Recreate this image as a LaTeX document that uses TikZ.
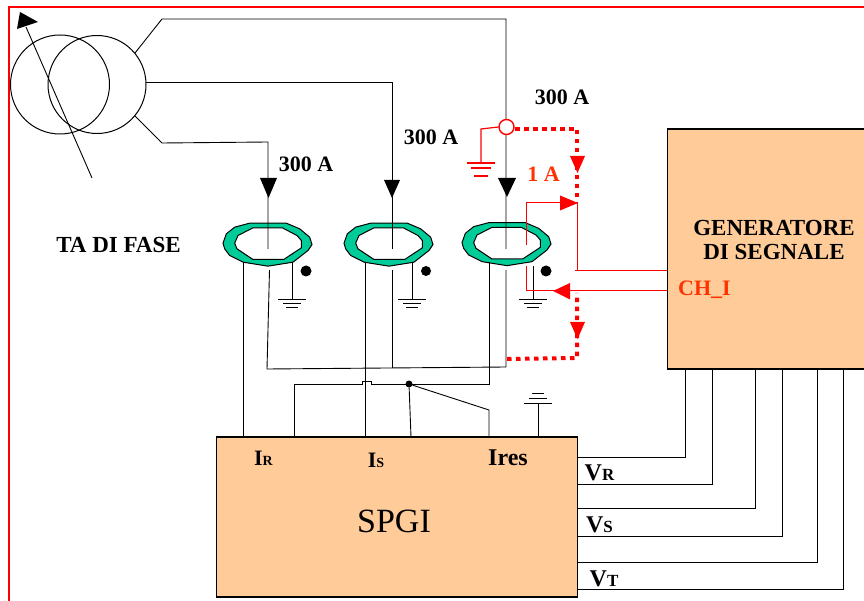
\documentclass[tikz,border=0pt]{standalone}
\usepackage{fontspec}
\setmainfont{Liberation Serif}
\definecolor{boxfill}{HTML}{FFCC99}
\definecolor{torus}{HTML}{00CC99}
\definecolor{orangered}{HTML}{FF3300}
\newcommand{\sz}[1]{\fontsize{#1}{#1}\selectfont}
\tikzset{
  wire/.style={draw=black,line width=0.9pt},
  redwire/.style={draw=red,line width=1pt},
  reddots/.style={draw=red,line width=4pt,dash pattern=on 4.5pt off 4.5pt},
  boxnode/.style={draw=black,fill=boxfill,line width=1.1pt,inner sep=0pt},
  lab/.style={inner sep=0pt,font=\bfseries\sz{22}},
  redlab/.style={inner sep=0pt,font=\bfseries\sz{22},text=orangered},
  blackhead/.style={fill=black,draw=none},
  redhead/.style={fill=red,draw=none},
  jdot/.style={circle,fill=black,inner sep=0pt,minimum size=#1},
  toroid/.pic={
    \path[fill=torus,draw=black,line width=1pt,xscale=1/3,yscale=1/3]
      (-135,-4)--(-125,-32)--(-100,-52)--(-55,-64)--(55,-64)--(95,-47)--(125,-22)--(132,0)--(120,18)--(75,53)--(0,65)--(-75,53)--(-115,33)--(-130,13)--cycle;
    \path[fill=white,draw=black,line width=1pt,xscale=1/3,yscale=1/3]
      (-100,-4)--(-90,-27)--(-45,-50)--(43,-50)--(87,-27)--(100,-12)--(100,10)--(47,45)--(-45,45)--(-93,13)--cycle;
  },
  groundsym/.pic={
    \draw[line width=1pt] (-14,0)--(14,0) (-9,4)--(9,4) (-6,8)--(6,8);
  },
  upgroundsym/.pic={
    \draw[line width=1pt] (-14,0)--(14,0) (-9,-5)--(9,-5) (-6,-9.5)--(6,-9.5);
  },
  redgroundsym/.pic={
    \draw[draw=red,line width=1.2pt] (-14,0)--(14,0) (-10,5)--(10,5) (-7,13)--(7,13);
  },
}
\begin{document}
\begin{tikzpicture}[x=1pt,y=-1pt]
\useasboundingbox (0,0) rectangle (864,601);
% frame
\draw[red,line width=2pt] (864,7) -- (9,7) -- (9,601);

% boxes
\node[boxnode,minimum width=199pt,minimum height=240pt] (gen) at (767,249) {};
\node[boxnode,minimum width=361pt,minimum height=160pt] (spgi) at (397,517) {};

% transformer
\node[draw,circle,line width=1pt,minimum size=99pt,inner sep=0pt] (c1) at (60,84.5) {};
\node[draw,circle,line width=1pt,minimum size=98pt,inner sep=0pt] (c2) at (97,84.5) {};
\coordinate (arrtail) at (92,178);
\coordinate (arrtip) at (26,27);
\draw[wire] (arrtail) -- (arrtip);
\path[blackhead] (20,12) -- (38,22) -- (17,29) -- cycle;

% toroids
\pic at (268,244.5) {toroid};
\pic at (389,244.5) {toroid};
\pic at (507,244) {toroid};

% phase conductors
\coordinate (r1) at (135,53);
\coordinate (r2) at (162,19);
\coordinate (t3top) at (506,19);
\coordinate (t3in) at (506,249);
\draw[wire] (r1) -- (r2) -- (t3top) -- (t3in);
\coordinate (m1) at (146,82);
\coordinate (t2top) at (392,82);
\coordinate (t2in) at (392,249);
\draw[wire] (m1) -- (t2top) -- (t2in);
\coordinate (b1) at (135,116);
\coordinate (b2) at (162,143);
\coordinate (t1top) at (268,142);
\coordinate (t1in) at (268,249);
\draw[wire] (b1) -- (b2) -- (t1top) -- (t1in);
\path[blackhead] (260,178) -- (277,178) -- (268.5,198) -- cycle;
\path[blackhead] (384,180) -- (400,180) -- (392,198) -- cycle;
\path[blackhead] (498,178) -- (516,178) -- (507,197) -- cycle;

% neutral return below the toroids
\coordinate (n1a) at (269.5,270);
\coordinate (n1) at (267,369);
\coordinate (n2a) at (392,270);
\coordinate (n2) at (392,368);
\coordinate (n3a) at (506,270);
\coordinate (n3) at (506,367);
\draw[wire] (n1a) -- (n1) -- (n3) -- (n3a);
\draw[wire] (n2a) -- (n2);

% secondary wires to SPGI
\coordinate (s1t) at (243,262);
\coordinate (s1b) at (243,437);
\draw[wire] (s1t) -- (s1b);
\coordinate (s2t) at (365,262);
\coordinate (s2b) at (365,437);
\draw[wire] (s2t) -- (s2b);
\node[jdot=7pt] (j) at (409,384) {};
\coordinate (s3t) at (489,262);
\coordinate (h1) at (489,384);
\coordinate (h2) at (294,384);
\coordinate (h3) at (294,437);
\draw[wire] (s3t) -- (h1) -- (371,384);
\draw[wire] (371,384) -- (371,381.5) -- (362,381.5) -- (362,384) -- (h2) -- (h3);
\coordinate (k1) at (411,437);
\draw[wire] (j) -- (k1);
\coordinate (k2) at (489,410);
\coordinate (k3) at (489,437);
\draw[wire] (j) -- (k2) -- (k3);

% grounds of the toroids
\coordinate (g1t) at (292,262);
\coordinate (g1) at (292,300);
\draw[wire] (g1t) -- (g1);
\pic at (g1) {groundsym};
\coordinate (g2t) at (412,262);
\coordinate (g2) at (412,300);
\draw[wire] (g2t) -- (g2);
\pic at (g2) {groundsym};
\coordinate (g3t) at (533,266);
\coordinate (g3) at (533,300);
\draw[wire] (g3t) -- (g3);
\pic at (g3) {groundsym};
\node[jdot=11pt] (d1) at (306,271) {};
\node[jdot=10pt] (d2) at (426,271) {};
\node[jdot=11pt] (d3) at (546,271) {};

% SPGI ground
\coordinate (g4) at (538,403);
\coordinate (g4b) at (538,437);
\draw[wire] (g4b) -- (g4);
\pic at (g4) {upgroundsym};

% voltage wires
\foreach \nm/\xx/\yy in {a/685/457,b/712/484,c/755/508,d/782/536,e/817/562,f/843/589}{
  \coordinate (vt\nm) at (\xx,369);
  \coordinate (vb\nm) at (\xx,\yy);
  \coordinate (vs\nm) at (577,\yy);
  \draw[wire] (vt\nm) -- (vb\nm) -- (vs\nm);
}

% red injection circuit
\node[draw=red,fill=white,circle,line width=1.4pt,minimum size=15pt,inner sep=0pt] (tap) at (506.5,127) {};
\coordinate (rg1) at (481,129);
\coordinate (rg2) at (481,163);
\draw[draw=red,line width=1.2pt] (tap.west) -- (rg1) -- (rg2);
\pic at (rg2) {redgroundsym};
\coordinate (dtl) at (515,129);
\coordinate (dtr) at (577,129);
\coordinate (dtb) at (577,200);
\draw[reddots] (dtl) -- (dtr) -- (dtb);
\path[redhead] (570,156) -- (585,156) -- (577.5,173) -- cycle;
\coordinate (i1) at (526,245);
\coordinate (i2) at (526,203);
\coordinate (i3) at (577,203);
\coordinate (i4) at (577,271);
\coordinate (i5) at (667,271);
\draw[redwire] (i1) -- (i2) -- (i3) -- (i4);
\draw[redwire] (575,271) -- (i5);
\path[redhead] (560,195.5) -- (578,203) -- (560,210.5) -- cycle;
\coordinate (o1) at (667,291);
\coordinate (o2) at (526,291);
\coordinate (o3) at (526,266);
\draw[draw=red,line width=1pt] (o1) -- (o2) -- (o3);
\path[redhead] (570,283) -- (553,291) -- (570,299.5) -- cycle;
\coordinate (dbt) at (577,293);
\coordinate (dbr) at (577,358);
\coordinate (dbl) at (507,359);
\draw[reddots] (dbl) -- (dbr) -- (dbt);
\path[redhead] (570,322) -- (585,322) -- (577.5,339) -- cycle;

% labels
\node[lab] (l300a) at (306,164) {300 A};
\node[lab] (l300b) at (431,137) {300 A};
\node[lab] (l300c) at (562,97) {300 A};
\node[lab,font=\bfseries\sz{23}] (ta) at (118.5,245) {TA DI FASE};
\node[redlab] (l1a) at (543.5,174) {1 A};
\node[redlab] (chi) at (704.5,290) {CH\_I};
\node[lab,align=center,font=\bfseries\sz{23}] (gentxt) at (774,239.5) {GENERATORE\\[1pt]DI SEGNALE};
\node[inner sep=0pt,font=\sz{34}] (spgitxt) at (394,521) {SPGI};
\node[lab,font=\bfseries\sz{22}] (ir) at (263.5,458) {I{\sz{14}R}};
\node[lab,font=\bfseries\sz{22}] (is) at (376,460) {I{\sz{14}S}};
\node[lab,font=\bfseries\sz{24}] (ires) at (508,458) {Ires};
\node[lab,font=\bfseries\sz{24}] (vr) at (599.5,473) {V{\sz{17}R}};
\node[lab,font=\bfseries\sz{24}] (vs) at (599.5,525) {V{\sz{17}S}};
\node[lab,font=\bfseries\sz{24}] (vt) at (604,579) {V{\sz{17}T}};
\end{tikzpicture}
\end{document}
